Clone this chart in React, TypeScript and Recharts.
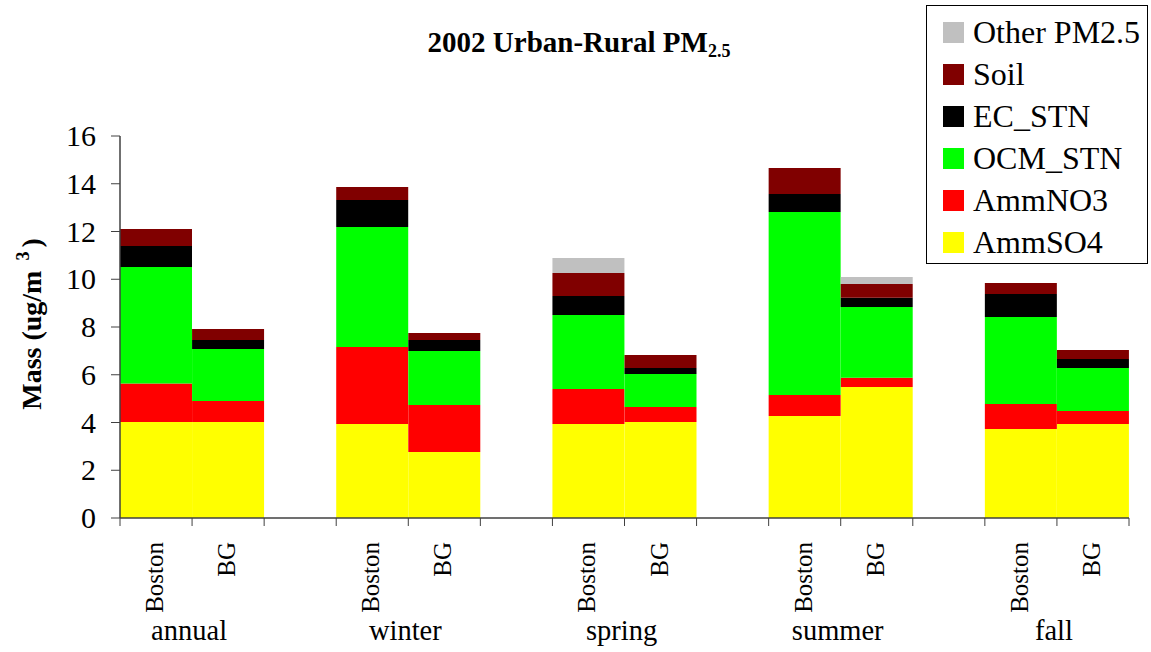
import { Bar, BarChart, XAxis, YAxis } from 'recharts';

const SERIF = '"Liberation Serif", "Times New Roman", serif';

const categories = ['Boston', 'BG', '', 'Boston', 'BG', '', 'Boston', 'BG', '', 'Boston', 'BG', '', 'Boston', 'BG'];
const groups = ['annual', 'winter', 'spring', 'summer', 'fall'];

const ammSO4 = [4.02, 4.02, null, 3.94, 2.76, null, 3.94, 4.02, null, 4.27, 5.49, null, 3.73, 3.94];
const ammNO3 = [1.61, 0.88, null, 3.22, 1.97, null, 1.46, 0.63, null, 0.88, 0.38, null, 1.05, 0.54];
const ocmSTN = [4.88, 2.18, null, 5.03, 2.27, null, 3.1, 1.38, null, 7.67, 2.97, null, 3.64, 1.8];
const ecSTN = [0.88, 0.38, null, 1.13, 0.46, null, 0.8, 0.25, null, 0.75, 0.38, null, 0.96, 0.38];
const soil = [0.71, 0.46, null, 0.54, 0.29, null, 0.96, 0.55, null, 1.09, 0.58, null, 0.46, 0.38];
const otherPM = [0, 0, null, 0, 0, null, 0.63, 0, null, 0, 0.29, null, 0, 0];

const yTicks = [0, 2, 4, 6, 8, 10, 12, 14, 16];

// stacking order bottom -> top
const SERIES = [
  { key: 'ammSO4', name: 'AmmSO4', color: '#FFFF00', values: ammSO4 },
  { key: 'ammNO3', name: 'AmmNO3', color: '#FF0000', values: ammNO3 },
  { key: 'ocm', name: 'OCM_STN', color: '#00FF00', values: ocmSTN },
  { key: 'ec', name: 'EC_STN', color: '#000000', values: ecSTN },
  { key: 'soil', name: 'Soil', color: '#800000', values: soil },
  { key: 'other', name: 'Other PM2.5', color: '#C0C0C0', values: otherPM },
];

const rows = categories.map((c, i) => {
  const r: Record<string, any> = { id: `c${i}`, name: c };
  SERIES.forEach((s) => {
    r[s.key] = s.values[i];
  });
  return r;
});

const W = 1151;
const H = 652;
const M = { top: 136, right: 22, left: 0, bottom: 0 };
const Y_W = 120;
const BAND = (W - Y_W - M.right) / categories.length;

function XTick({ x, y, index }: any) {
  const half = BAND / 2;
  const name = categories[index];
  return (
    <g>
      <line x1={x - half} x2={x - half} y1={y} y2={y + 8} stroke="#404040" />
      {index === categories.length - 1 && (
        <line x1={x + half} x2={x + half} y1={y} y2={y + 8} stroke="#404040" />
      )}
      {name && (
        <text
          transform={`translate(${x + 7},${y + 24}) rotate(-90)`}
          textAnchor="end"
          style={{ fontFamily: SERIF, fontSize: 25 }}
          fill="#000"
        >
          {name}
        </text>
      )}
      {name === 'Boston' && (
        <text x={x + half - 3} y={y + 122} textAnchor="middle" style={{ fontFamily: SERIF, fontSize: 28.5 }} fill="#000">
          {groups[Math.floor(index / 3)]}
        </text>
      )}
    </g>
  );
}

function YTick({ x, y, payload }: any) {
  return (
    <text x={x} y={y} dy={10} textAnchor="end" style={{ fontFamily: SERIF, fontSize: 30 }} fill="#000">
      {payload.value}
    </text>
  );
}

function YLabel() {
  return (
    <text
      transform="translate(41,324) rotate(-90)"
      textAnchor="middle"
      style={{ fontFamily: SERIF, fontSize: 28, fontWeight: 'bold' }}
      fill="#000"
    >
      Mass (ug/m
      <tspan dx={10} dy={-12} style={{ fontSize: 18 }}>3</tspan>
      <tspan dx={4} dy={12}>)</tspan>
    </text>
  );
}

function ChartLegend() {
  return (
    <div
      style={{
        position: 'absolute',
        left: 926,
        top: 5,
        width: 220,
        height: 257,
        border: '1px solid #000',
        background: '#fff',
        fontFamily: SERIF,
        fontSize: 32,
      }}
    >
      {[...SERIES].reverse().map((s, i) => (
        <div
          key={s.key}
          style={{ position: 'absolute', left: 16, top: 26 + i * 42 - 11, height: 22, display: 'flex', alignItems: 'center' }}
        >
          <span style={{ width: 21, height: 21, background: s.color, display: 'inline-block' }} />
          <span style={{ marginLeft: 9, lineHeight: '22px', whiteSpace: 'nowrap', fontFamily: SERIF }}>{s.name}</span>
        </div>
      ))}
    </div>
  );
}

export default function App() {
  return (
    <div style={{ position: 'absolute', left: 0, top: 0, width: W, height: H, background: '#fff', fontFamily: SERIF }}>
      <BarChart width={W} height={H} data={rows} margin={M} barCategoryGap={0} barGap={0}>
        <XAxis
          dataKey="id"
          interval={0}
          height={H - 518}
          tickSize={0}
          tickMargin={0}
          tick={<XTick />}
          axisLine={{ stroke: '#404040', strokeWidth: 1.5 }}
          tickLine={false}
        />
        <XAxis xAxisId="top" dataKey="id" orientation="top" height={0} tick={false} tickLine={false} axisLine={{ stroke: '#8c8c8c', strokeWidth: 1.5 }} />
        <YAxis
          width={Y_W}
          domain={[0, 16]}
          ticks={yTicks}
          interval={0}
          tickSize={9}
          tickMargin={15}
          tick={<YTick />}
          axisLine={{ stroke: '#404040', strokeWidth: 1.5 }}
          tickLine={{ stroke: '#404040' }}
          label={{ content: () => <YLabel /> }}
        />
        <YAxis yAxisId="right" orientation="right" width={0} domain={[0, 16]} tick={false} tickLine={false} axisLine={{ stroke: '#8c8c8c', strokeWidth: 1.5 }} />
        {SERIES.map((s) => (
          <Bar key={s.key} dataKey={s.key} name={s.name} stackId="a" fill={s.color} isAnimationActive={false} />
        ))}
      </BarChart>
      <div
        style={{
          position: 'absolute',
          left: 0,
          width: 1158,
          top: 26,
          textAlign: 'center',
          fontFamily: SERIF,
          fontWeight: 'bold',
          fontSize: 29,
          color: '#000',
        }}
      >
        2002 Urban-Rural PM<sub style={{ fontSize: 18, verticalAlign: '-5px' }}>2.5</sub>
      </div>
      <ChartLegend />
    </div>
  );
}
